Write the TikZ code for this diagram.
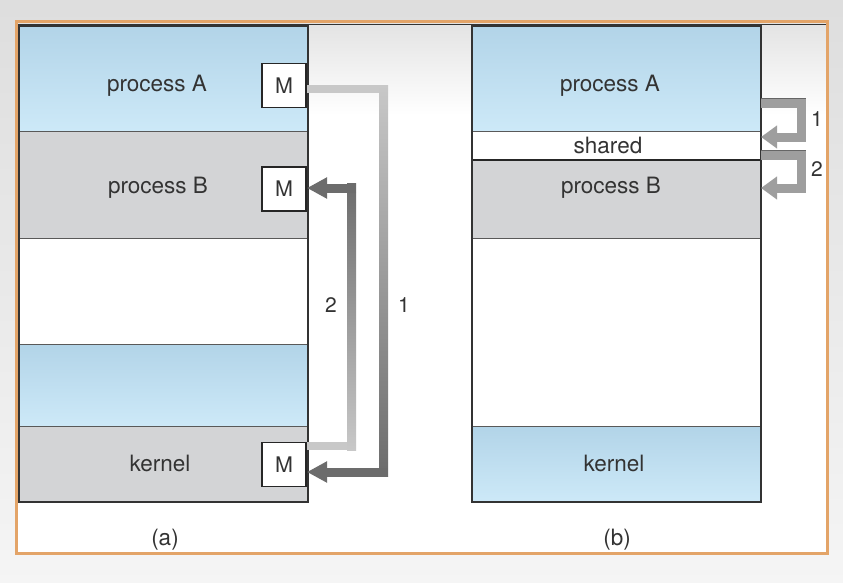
\documentclass[tikz,border=0pt]{standalone}
\usepackage{fontspec}
\setmainfont{TeX Gyre Heros}
\usetikzlibrary{arrows.meta,calc}
\definecolor{bluT}{HTML}{B2D4E8}
\definecolor{bluB}{HTML}{CDE9F8}
\definecolor{grayF}{HTML}{D3D4D6}
\definecolor{txt}{HTML}{333333}
\definecolor{frameC}{HTML}{E3A468}
\definecolor{arL}{HTML}{C8C8C8}
\definecolor{arD}{HTML}{6C6C6C}
\definecolor{arM}{HTML}{9E9E9E}
\tikzset{
  sec/.style={draw=black!65, line width=0.8pt, anchor=north west, minimum width=289pt, inner sep=0pt, outer sep=0pt},
  blu/.style={top color=bluT, bottom color=bluB},
  gry/.style={fill=grayF},
  wht/.style={fill=white},
  lbl/.style={text=txt, font=\fontsize{22.5}{26}\selectfont, inner sep=0pt},
  numl/.style={text=txt, font=\fontsize{21}{25}\selectfont, inner sep=0pt},
  mbox/.style={draw=black!85, line width=1.5pt, fill=white, minimum size=44pt, inner sep=0pt, outer sep=0pt, text=txt, font=\fontsize{21.5}{25}\selectfont},
  col/.style={draw=black!80, line width=1.5pt},
  thickar/.style={line width=9pt, arD, -{Triangle[width=20pt,length=20pt]}},
  smallar/.style={line width=9pt, arM, line join=miter, -{Triangle[width=22pt,length=16pt]}},
  edge/.style={line width=1.5pt, black!60}
}
\begin{document}
\begin{tikzpicture}[x=1pt,y=-1pt]
\useasboundingbox (0,0) rectangle (843,582);
% background
\shade[top color=black!13, bottom color=black!4] (0,0) rectangle (843,582);
\fill[white] (17,22) rectangle (827,553);
\shade[top color=black!11, bottom color=white] (17,22) rectangle (827,115);
\draw[line width=1.5pt, black!80] (18,24.5) -- (826,24.5);
\draw[line width=3pt, frameC] (16.5,21.5) rectangle (827.5,553.5);

% left column
\node[sec,blu,minimum height=105pt] (LA) at (19,26) {};
\node[sec,gry,minimum height=107pt] (LB) at (19,131) {};
\node[sec,wht,minimum height=106pt] (LE) at (19,238) {};
\node[sec,blu,minimum height=82pt]  (LC) at (19,344) {};
\node[sec,gry,minimum height=76pt]  (LK) at (19,426) {};
\draw[col] (LA.north west) rectangle (LK.south east);
\node[lbl] (tLA) at (157,86) {process A};
\node[lbl] (tLB) at (158,188) {process B};
\node[lbl] (tLK) at (160,463) {kernel};
\node[mbox] (mA) at (284,85.5) {M};
\node[mbox] (mB) at (284,189) {M};
\node[mbox] (mK) at (284,464.5) {M};

% right column
\node[sec,blu,minimum height=105pt] (RA) at (472,26) {};
\node[sec,wht,minimum height=29pt]  (RS) at (472,131) {};
\node[sec,gry,minimum height=78pt]  (RB) at (472,160) {};
\node[sec,wht,minimum height=188pt] (RE) at (472,238) {};
\node[sec,blu,minimum height=76pt]  (RK) at (472,426) {};
\draw[line width=2pt, black!85] (RS.south west) -- (RS.south east);
\draw[col] (RA.north west) rectangle (RK.south east);
\node[lbl] (tRA) at (610,86) {process A};
\node[lbl] (tRS) at (608,145) {shared};
\node[lbl] (tRB) at (611,188) {process B};
\node[lbl] (tRK) at (614,463) {kernel};

% arrow 1 (a)
\coordinate (p1a) at ($(mA.east)+(1,3.5)$);
\coordinate (p1b) at (383.5,89);
\coordinate (p1c) at (383.5,472);
\coordinate (p1d) at ($(mK.east)+(1,7.5)$);
\draw[line width=8pt, arL] (p1a) -- ($(p1b)+(4,0)$);
\shade[top color=arL, bottom color=arD] ($(p1b)+(-4.5,-4)$) rectangle ($(p1c)+(4.5,4.5)$);
\draw[thickar] ($(p1c)+(4.5,0)$) -- (p1d);

% arrow 2 (a)
\coordinate (p2a) at ($(mK.east)+(1,-18.5)$);
\coordinate (p2b) at (351.5,446);
\coordinate (p2c) at (351.5,188);
\coordinate (p2d) at ($(mB.east)+(1,-1)$);
\draw[line width=8pt, arL] (p2a) -- ($(p2b)+(4.5,0)$);
\shade[top color=arD, bottom color=arL] ($(p2c)+(-4.5,-4.5)$) rectangle ($(p2b)+(4.5,4)$);
\draw[thickar] ($(p2c)+(4.5,0)$) -- (p2d);

\node[numl] (n2a) at (331,305) {2};
\node[numl] (n1a) at (404,305) {1};

% arrows (b)
\coordinate (q1a) at (RA.east |- 0,103);
\coordinate (q1b) at (801.5,103);
\coordinate (q1c) at (801.5,137);
\coordinate (q1d) at (RS.east |- 0,137);
\draw[smallar] (q1a) -- (q1b) -- (q1c) -- (q1d);
\draw[edge] ($(q1a)+(0,-4.5)$) -- ($(q1b)+(4.5,-4.5)$);

\coordinate (q2a) at (RS.east |- 0,155);
\coordinate (q2b) at (801.5,155);
\coordinate (q2c) at (801.5,188);
\coordinate (q2d) at (RB.east |- 0,188);
\draw[smallar] (q2a) -- (q2b) -- (q2c) -- (q2d);
\draw[edge] ($(q2a)+(0,-4.5)$) -- ($(q2b)+(4.5,-4.5)$);

\node[numl] (n1b) at (817,119) {1};
\node[numl] (n2b) at (817,169) {2};

\node[lbl] (capA) at (165,540) {(a)};
\node[lbl] (capB) at (617,540) {(b)};
\end{tikzpicture}
\end{document}
